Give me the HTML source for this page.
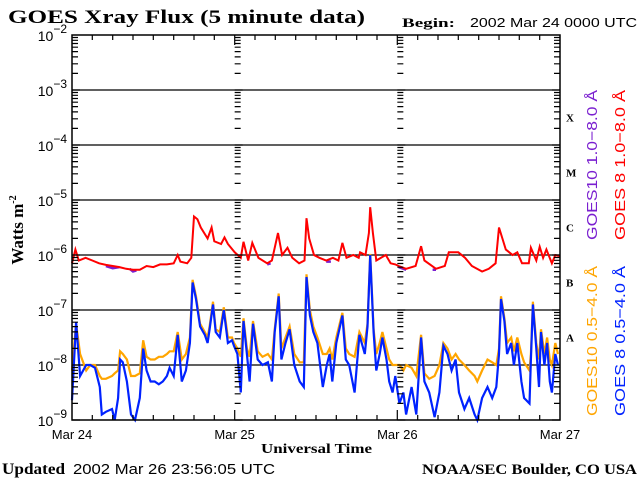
<!DOCTYPE html>
<html><head><meta charset="utf-8">
<style>
html,body{margin:0;padding:0;background:#fff;}
svg{display:block;}
.serif{font-family:"Liberation Serif",serif;font-weight:bold;}
.sans{font-family:"Liberation Sans",sans-serif;}
</style></head>
<body>
<svg id="chart" width="640" height="480" viewBox="0 0 640 480" xmlns="http://www.w3.org/2000/svg">
<text class="serif" x="8" y="23" font-size="19" textLength="357" lengthAdjust="spacingAndGlyphs">GOES Xray Flux (5 minute data)</text>
<text class="serif" x="402" y="27" font-size="13" textLength="53" lengthAdjust="spacingAndGlyphs">Begin:</text>
<text class="sans" x="470" y="27" font-size="13" textLength="167" lengthAdjust="spacingAndGlyphs">2002 Mar 24 0000 UTC</text>
<text class="serif" x="0" y="0" font-size="17" transform="translate(23,230) rotate(-90)" text-anchor="middle">Watts m<tspan font-size="10" dy="-7">-2</tspan></text>
<text class="serif" x="261" y="453" font-size="14" textLength="111" lengthAdjust="spacingAndGlyphs">Universal Time</text>
<text class="serif" x="2" y="474" font-size="16" textLength="63" lengthAdjust="spacingAndGlyphs">Updated</text>
<text class="sans" x="73" y="474" font-size="15" textLength="202" lengthAdjust="spacingAndGlyphs">2002 Mar 26 23:56:05 UTC</text>
<text class="serif" x="422" y="474" font-size="15" textLength="215" lengthAdjust="spacingAndGlyphs">NOAA/SEC Boulder, CO USA</text>
<g id="grid"></g>
<g id="series"></g>
<g id="axes"></g>
<g id="legend">
<text class="sans" font-size="15" fill="#7a1fd0" x="0" y="0" textLength="150" lengthAdjust="spacingAndGlyphs" transform="translate(597,240) rotate(-90)">GOES10 1.0−8.0 Å</text>
<text class="sans" font-size="15" fill="#ff0000" x="0" y="0" textLength="150" lengthAdjust="spacingAndGlyphs" transform="translate(625,240) rotate(-90)">GOES 8 1.0−8.0 Å</text>
<text class="sans" font-size="15" fill="#ffa500" x="0" y="0" textLength="150" lengthAdjust="spacingAndGlyphs" transform="translate(597,416) rotate(-90)">GOES10 0.5−4.0 Å</text>
<text class="sans" font-size="15" fill="#0022ff" x="0" y="0" textLength="150" lengthAdjust="spacingAndGlyphs" transform="translate(625,416) rotate(-90)">GOES 8 0.5−4.0 Å</text>
</g>
</svg>
<script>
const dayLabels = ["Mar 24","Mar 25","Mar 26","Mar 27"];
const decadeExps = [-2,-3,-4,-5,-6,-7,-8,-9];
const classLabels = ["X","M","C","B","A"];
const classExps = [-4,-5,-6,-7,-8];
const redHours = [0,0.5,1,2,3,4,5,6,7,8,9,10,11,12,13,14,15,15.6,16,17,17.6,18,18.5,19,20,20.6,21,22,22.5,23,24,24.9,25.3,26,26.6,27.5,28.8,29.5,30.4,31,31.8,32.5,33.5,34.3,34.6,35,35.7,36.5,37.5,38.5,39.3,39.9,40.5,41.5,42.3,42.5,43.3,43.8,44.0,44.4,44.9,46.3,47,47.7,48.2,49.3,50.7,51.5,52,53.7,55,55.6,57,58,59,60.5,61.5,62.5,63,63.5,64,65,65.7,66.4,67.4,67.7,68.5,69,69.5,70,70.8,71.3,72];
const redLog = [-6.15,-5.9,-6.1,-6.05,-6.1,-6.15,-6.18,-6.2,-6.22,-6.25,-6.27,-6.27,-6.2,-6.22,-6.17,-6.17,-6.15,-6.0,-6.12,-6.15,-6.05,-5.3,-5.35,-5.5,-5.7,-5.5,-5.75,-5.8,-5.68,-5.8,-5.95,-6.05,-5.76,-6.1,-5.78,-6.05,-6.15,-6.1,-5.6,-6.0,-5.87,-6.05,-6.15,-6.1,-5.33,-5.7,-6.0,-6.05,-6.1,-6.05,-6.1,-5.78,-6.05,-6.0,-6.05,-5.95,-6.0,-5.6,-5.13,-5.6,-6.1,-6.0,-6.15,-6.17,-6.2,-6.25,-6.2,-5.84,-6.1,-6.25,-6.2,-5.95,-5.95,-6.05,-6.2,-6.3,-6.25,-6.15,-5.5,-5.7,-5.9,-6.0,-5.95,-6.15,-6.15,-5.87,-6.1,-5.85,-6.05,-5.9,-6.15,-6.0,-6.02];
const purpleHours = [5,6,7,null,8.5,9,9.5,null,28.8,29.3,null,37.5,38.2,null,48.2,49.3,null,53.2,53.7];
const purpleLog = [-6.2,-6.24,-6.22,null,-6.25,-6.3,-6.28,null,-6.17,-6.15,null,-6.12,-6.12,null,-6.22,-6.27,null,-6.27,-6.27];
const shortHours = [0,0.6,1.2,2.1,2.7,3.4,4.1,4.4,5.0,5.9,6.3,6.8,7.1,7.5,8.1,8.7,9.3,10.0,10.5,11.0,11.6,12.2,12.8,13.4,14.0,14.4,15.0,15.6,16.2,16.8,17.4,17.8,18.3,18.9,19.6,20.0,20.3,20.8,21.2,21.8,22.4,23.0,23.6,23.9,24.4,24.9,25.3,25.8,26.2,26.7,27.4,28.1,28.9,29.5,29.9,30.5,30.9,31.5,32.1,32.8,33.6,34.2,34.6,35.1,35.6,36.2,37.0,37.6,38.0,38.4,39.0,39.9,40.4,40.9,41.7,42.4,43.2,43.6,44.0,44.5,44.9,45.4,45.8,46.4,46.8,47.3,47.7,48.3,48.9,49.3,50.1,50.8,51.5,52.0,52.7,53.5,54.2,54.8,55.4,56.0,56.6,57.1,57.9,58.6,59.4,59.8,60.5,61.3,62.0,62.6,63.0,63.3,63.8,64.2,64.8,65.2,65.7,66.3,66.7,67.5,67.7,68.0,68.5,68.9,69.2,69.7,70.1,70.5,70.8,71.3,71.7];
const blueLog = [-8.64,-7.22,-8.2,-8.0,-8.0,-8.05,-8.4,-8.9,-8.85,-8.8,-9.2,-8.6,-7.9,-7.95,-8.3,-8.9,-9.15,-8.6,-7.7,-8.1,-8.3,-8.3,-8.35,-8.3,-8.2,-8.05,-8.2,-7.45,-8.3,-8.1,-7.6,-6.5,-6.8,-7.3,-7.45,-7.6,-7.35,-6.9,-7.4,-7.5,-7.0,-7.6,-7.55,-7.65,-7.8,-8.5,-7.2,-7.8,-8.3,-7.25,-7.9,-8.0,-7.95,-8.3,-7.4,-6.75,-7.9,-7.6,-7.35,-8.0,-8.3,-8.4,-6.4,-7.1,-7.4,-7.6,-8.4,-8.0,-7.8,-8.3,-7.6,-7.1,-7.9,-8.0,-8.5,-7.45,-7.8,-7.3,-6.0,-7.4,-8.1,-7.8,-7.5,-7.9,-8.3,-8.5,-8.2,-8.7,-8.5,-8.9,-8.4,-8.9,-7.5,-8.3,-8.5,-8.95,-8.5,-7.65,-7.8,-8.1,-7.9,-8.5,-8.8,-8.6,-8.9,-9.1,-8.6,-8.4,-8.6,-8.4,-7.8,-6.8,-7.2,-7.8,-7.6,-8.0,-7.6,-8.3,-8.6,-8.7,-7.9,-6.9,-7.7,-8.4,-7.4,-8.0,-7.6,-8.3,-8.5,-7.8,-8.0];
const orangeLog = [-8.1,-7.25,-7.8,-8.1,-8.0,-8.0,-8.2,-8.25,-8.25,-8.2,-8.15,-8.1,-7.75,-7.8,-7.9,-8.2,-8.2,-8.15,-7.55,-7.85,-7.9,-7.9,-7.85,-7.85,-7.8,-7.75,-7.75,-7.4,-7.9,-7.8,-7.5,-6.45,-6.75,-7.25,-7.4,-7.5,-7.3,-6.85,-7.35,-7.4,-6.95,-7.5,-7.5,-7.6,-7.7,-7.85,-7.15,-7.7,-7.85,-7.2,-7.75,-7.85,-7.8,-7.9,-7.35,-6.7,-7.7,-7.5,-7.3,-7.8,-7.95,-7.95,-6.35,-7.0,-7.3,-7.5,-7.8,-7.8,-7.7,-7.9,-7.5,-7.05,-7.7,-7.8,-7.85,-7.4,-7.6,-7.25,-5.98,-7.35,-7.8,-7.6,-7.4,-7.7,-7.9,-8.0,-8.0,-8.0,-8.1,-8.0,-8.05,-8.2,-7.45,-8.15,-8.25,-8.2,-8.0,-7.6,-7.7,-7.9,-7.8,-7.9,-8.0,-8.1,-8.2,-8.3,-8.1,-7.9,-7.95,-8.0,-7.7,-6.75,-7.15,-7.6,-7.5,-7.75,-7.5,-7.8,-7.95,-8.1,-7.8,-6.85,-7.6,-7.9,-7.35,-7.8,-7.5,-7.9,-8.0,-7.6,-7.8];

const NS = "http://www.w3.org/2000/svg";
const X0 = 72, X1 = 560, Y0 = 35, Y1 = 420;
const xScale = h => X0 + (X1 - X0) * h / 72;
const yScale = lg => Y0 + (-2 - lg) * (Y1 - Y0) / 7;
function mk(tag, attrs, parent) {
  const e = document.createElementNS(NS, tag);
  for (const k in attrs) e.setAttribute(k, attrs[k]);
  parent.appendChild(e);
  return e;
}
const grid = document.getElementById("grid");
const axes = document.getElementById("axes");
const series = document.getElementById("series");

decadeExps.slice(1, -1).forEach(e => {
  const l = mk("line", {x1: X0, x2: X1, y1: yScale(e), y2: yScale(e), stroke: "#000", "stroke-width": 1.3}, grid);
  
  
});

const frame = mk("rect", {x: X0, y: Y0, width: X1 - X0, height: Y1 - Y0, fill: "none", stroke: "#000", "stroke-width": 1.5}, axes);



let tickPath = "";
const tickCols = [[X0, 1], [xScale(24), 1], [xScale(48), 1], [X1, -1]];
decadeExps.forEach((e, i) => {
  if (i === decadeExps.length - 1) return;
  for (let m = 1; m <= 9; m++) {
    const y = yScale(e - 1 + Math.log10(m));
    const len = m === 1 ? 8 : 6;
    tickCols.forEach(([x, d]) => {
      tickPath += `M${x},${y.toFixed(1)}h${d * len}`;
    });
  }
});
for (let h = 3; h < 72; h += 3) {
  const x = xScale(h);
  const len = h % 24 === 0 ? 10 : 5;
  tickPath += `M${x.toFixed(1)},${Y1}v${-len}M${x.toFixed(1)},${Y0}v${len}`;
}
const ticks = mk("path", {d: tickPath, stroke: "#000", "stroke-width": 1.2, fill: "none"}, axes);



decadeExps.forEach(e => {
  const t = mk("text", {x: 67, y: yScale(e) + 6, "text-anchor": "end", "font-size": 14, "font-family": "Liberation Sans, sans-serif"}, axes);
  
  
  t.innerHTML = `10<tspan font-size="12" dy="-8">${e < 0 ? "−" : ""}${Math.abs(e)}</tspan>`;
});
dayLabels.forEach((lab, i) => {
  const t = mk("text", {x: xScale(i * 24), y: 439, "text-anchor": "middle", "font-size": 13, "font-family": "Liberation Sans, sans-serif"}, axes);
  
  
  t.textContent = lab;
});
classLabels.forEach((lab, i) => {
  const t = mk("text", {x: 566, y: yScale(classExps[i] + 0.5) + 4, "font-size": 11, "font-weight": "bold", "font-family": "Liberation Serif, serif"}, axes);
  
  
  t.textContent = lab;
});

function drawSeries(hours, vals, color, name, w) {
  let d = "", start = true;
  hours.forEach((h, i) => {
    if (h === null || vals[i] === null) { start = true; return; }
    const x = xScale(h).toFixed(1), y = yScale(Math.max(-9, Math.min(-2, vals[i]))).toFixed(1);
    d += (start ? "M" : "L") + x + "," + y;
    start = false;
  });
  const p = mk("path", {d: d, stroke: color, "stroke-width": w, fill: "none", "stroke-linejoin": "miter"}, series);
  
  
}
drawSeries(shortHours, orangeLog, "#ffa500", "goes10-short-line", 2.2);
drawSeries(shortHours, blueLog, "#0022ff", "goes8-short-line", 2.2);
drawSeries(purpleHours, purpleLog, "#7a1fd0", "goes10-long-line", 2.5);
drawSeries(redHours, redLog, "#ff0000", "goes8-long-line", 2);
</script>
</body></html>
